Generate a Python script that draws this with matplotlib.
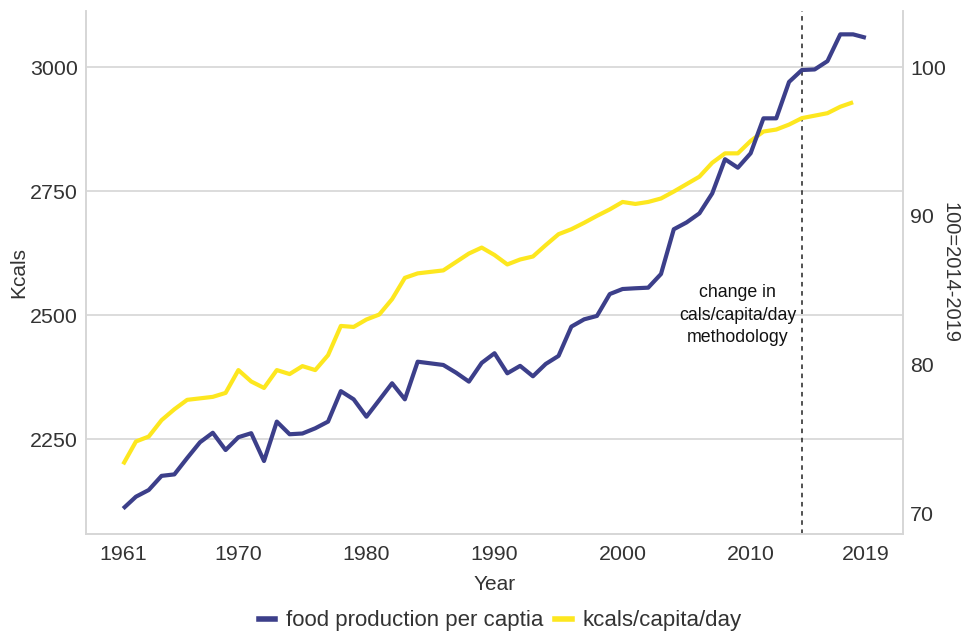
import numpy as np
import matplotlib.pyplot as plt
from matplotlib.lines import Line2D

plt.rcParams['font.family'] = ['Liberation Sans', 'DejaVu Sans']

# ---------------------------
# Data
# ---------------------------
kcal_years = list(range(1961, 2019))
kcals = [2199, 2245, 2255, 2288, 2310, 2329, 2332, 2335, 2343, 2389,
         2366, 2353, 2389, 2381, 2397, 2389, 2419, 2478, 2476, 2491,
         2501, 2532, 2575, 2584, 2587, 2590, 2607, 2624, 2636, 2621,
         2602, 2612, 2618, 2641, 2663, 2673, 2686, 2700, 2713, 2728,
         2724, 2728, 2735, 2749, 2764, 2779, 2807, 2826, 2826, 2851,
         2870, 2874, 2884, 2897, 2902, 2907, 2920, 2929]

food_years = list(range(1961, 2020))
food_index = [70.3, 71.1, 71.55, 72.5, 72.6, 73.7, 74.76, 75.4, 74.24, 75.1,
              75.37, 73.5, 76.15, 75.3, 75.35, 75.7, 76.15, 78.2, 77.65, 76.48,
              77.6, 78.73, 77.65, 80.18, 80.07, 79.96, 79.44, 78.84, 80.1, 80.75,
              79.4, 79.9, 79.2, 80.03, 80.57, 82.54, 83.03, 83.26, 84.73, 85.07,
              85.12, 85.16, 86.08, 89.09, 89.55, 90.16, 91.5, 93.8, 93.23, 94.2,
              96.55, 96.55, 99.0, 99.8, 99.84, 100.4, 102.2, 102.2, 101.97]

x_ticks = [1961, 1970, 1980, 1990, 2000, 2010, 2019]
kcal_ticks = [2250, 2500, 2750, 3000]
index_ticks = [70, 80, 90, 100]
method_change_year = 2014

blue = '#3c3f8a'
yellow = '#fde71f'
grid_col = '#d6d6d6'
text_col = '#333333'

fig = plt.figure(figsize=(9.62, 6.33), dpi=100)
ax = fig.add_axes([0.0894, 0.1564, 0.8493, 0.8262])
ax2 = ax.twinx()

# ---------------------------
# Lines
# ---------------------------
ax.plot(kcal_years, kcals, color=yellow, linewidth=3.0, solid_capstyle='butt')
ax2.plot(food_years, food_index, color=blue, linewidth=3.0, solid_capstyle='butt')

ax.axvline(method_change_year, color='#222222', linewidth=1.1,
           linestyle=(0, (3, 3)), zorder=1)
ax.text(2009.0, 2500, "change in\ncals/capita/day\nmethodology",
        ha='center', va='center', fontsize=12.8, color='#111111', linespacing=1.4)

# ---------------------------
# Formatting
# ---------------------------
ax.set_xlim(1958.1, 2021.9)
ax.set_ylim(2058.5, 3113)
ax2.set_ylim(68.59, 103.77)

ax.set_xticks(x_ticks)
ax.set_yticks(kcal_ticks)
ax2.set_yticks(index_ticks)

ax.grid(axis='y', color=grid_col, linewidth=1.2)
ax.set_axisbelow(True)

for a in (ax, ax2):
    a.tick_params(length=0, labelsize=15.4, labelcolor=text_col)
    for s in a.spines.values():
        s.set_color(grid_col)
        s.set_linewidth(1.2)
    a.spines['top'].set_visible(False)

ax.tick_params(axis='x', pad=8)
ax.tick_params(axis='y', pad=6)
ax2.tick_params(axis='y', pad=5)

ax.set_xlabel("Year", fontsize=15, color=text_col, labelpad=8)
ax.set_ylabel("Kcals", fontsize=15, color=text_col, labelpad=1)
# right-hand axis title, placed by hand so it stays inside the canvas
fig.text(0.9875, 0.570, "100=2014-2019", fontsize=14.5, color=text_col,
         rotation=270, ha='center', va='center')

handles = [Line2D([], [], color=blue, linewidth=4),
           Line2D([], [], color=yellow, linewidth=4)]
fig.legend(handles, ["food production per captia", "kcals/capita/day"],
           loc='center', bbox_to_anchor=(0.52, 0.019), ncol=2, frameon=False,
           fontsize=16, handlelength=0.75, handletextpad=0.5, columnspacing=0.5,
           labelcolor=text_col)

fig.savefig("out.png", dpi=100)
